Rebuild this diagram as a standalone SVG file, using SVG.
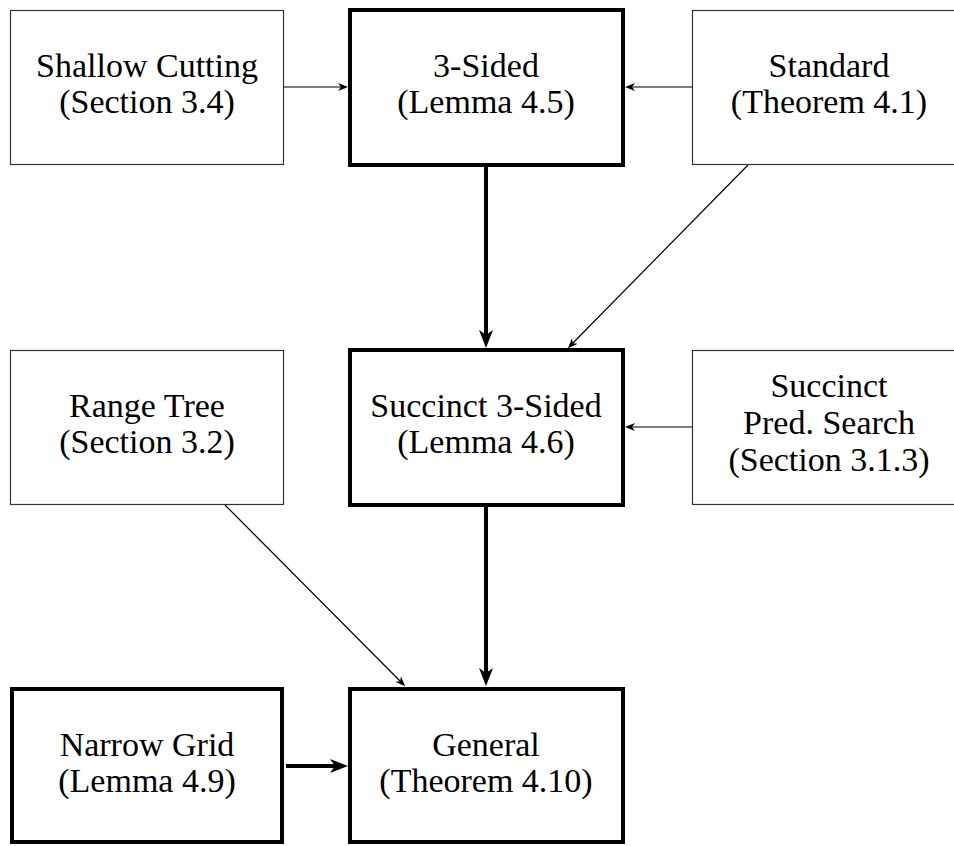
<svg xmlns="http://www.w3.org/2000/svg" width="954" height="846" viewBox="0 0 954 846">
<style>
.thin{fill:#fff;stroke:#333;stroke-width:1.2}
.thick{fill:#fff;stroke:#000;stroke-width:4}
text{font-family:"Liberation Serif","DejaVu Serif",serif;font-size:34px;fill:#000;text-anchor:middle}
.c1{stroke:#000;stroke-width:1.2;fill:none;marker-end:url(#ah1)}
.c2{stroke:#000;stroke-width:4;fill:none;marker-end:url(#ah2)}
</style>
<defs>
<marker id="ah1" viewBox="-10 -5 10 10" refX="-3" refY="0" markerWidth="10" markerHeight="10" markerUnits="userSpaceOnUse" orient="auto">
<path d="M0,0 L-10,-4 L-7,0 L-10,4 Z" fill="#000"/>
</marker>
<marker id="ah2" viewBox="-18 -9 18 18" refX="-8" refY="0" markerWidth="18" markerHeight="18" markerUnits="userSpaceOnUse" orient="auto">
<path d="M0,0 L-18,-7 L-13,0 L-18,7 Z" fill="#000"/>
</marker>
</defs>
<rect width="954" height="846" fill="#fff"/>
<g id="connectors">
<line class="c1" x1="284" y1="87" x2="345" y2="87"/>
<line class="c1" x1="692" y1="87" x2="628" y2="87"/>
<line class="c2" x1="486" y1="167" x2="486" y2="340"/>
<line class="c1" x1="748" y1="165" x2="570" y2="346"/>
<line class="c1" x1="692" y1="427" x2="628" y2="427"/>
<line class="c2" x1="486" y1="507" x2="486" y2="678"/>
<line class="c1" x1="225" y1="505" x2="403" y2="684"/>
<line class="c2" x1="286" y1="766" x2="340" y2="766"/>
</g>
<g id="shallow-cutting">
<rect class="thin" x="10.5" y="10.5" width="273" height="154"/>
<text x="147" y="77">Shallow Cutting</text>
<text x="147" y="113">(Section 3.4)</text>
</g>
<g id="three-sided">
<rect class="thick" x="350" y="10" width="273" height="155"/>
<text x="486" y="77">3-Sided</text>
<text x="486" y="113">(Lemma 4.5)</text>
</g>
<g id="standard">
<rect class="thin" x="692.5" y="10.5" width="280" height="154"/>
<text x="829" y="77">Standard</text>
<text x="829" y="113">(Theorem 4.1)</text>
</g>
<g id="range-tree">
<rect class="thin" x="10.5" y="350.5" width="273" height="154"/>
<text x="147" y="417">Range Tree</text>
<text x="147" y="453">(Section 3.2)</text>
</g>
<g id="succinct-three-sided">
<rect class="thick" x="350" y="350" width="273" height="155"/>
<text x="486" y="417">Succinct 3-Sided</text>
<text x="486" y="453">(Lemma 4.6)</text>
</g>
<g id="succinct-pred-search">
<rect class="thin" x="692.5" y="350.5" width="280" height="154"/>
<text x="829" y="397">Succinct</text>
<text x="829" y="434">Pred. Search</text>
<text x="829" y="471">(Section 3.1.3)</text>
</g>
<g id="narrow-grid">
<rect class="thick" x="12" y="689" width="270" height="153"/>
<text x="147" y="756">Narrow Grid</text>
<text x="147" y="792">(Lemma 4.9)</text>
</g>
<g id="general">
<rect class="thick" x="350" y="689" width="273" height="153"/>
<text x="486" y="756">General</text>
<text x="486" y="792">(Theorem 4.10)</text>
</g>
</svg>
